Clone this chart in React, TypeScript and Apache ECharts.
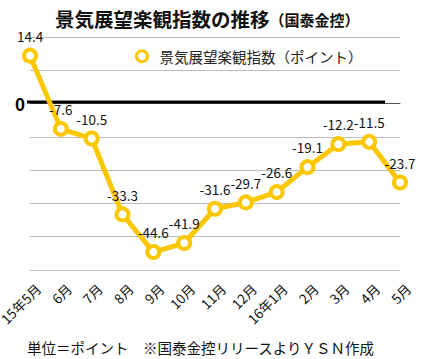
import React, { useEffect, useRef } from "react";
import * as echarts from "echarts";

const categories = ["15年5月", "6月", "7月", "8月", "9月", "10月", "11月", "12月", "16年1月", "2月", "3月", "4月", "5月"];
const values = [14.4, -7.6, -10.5, -33.3, -44.6, -41.9, -31.6, -29.7, -26.6, -19.1, -12.2, -11.5, -23.7];
const seriesName = "景気展望楽観指数（ポイント）";
const titleMain = "景気展望楽観指数の推移";
const titleSub = "（国泰金控）";
const footnote = "単位＝ポイント　※国泰金控リリースよりＹＳＮ作成";
const yMin = -50;
const yMax = 20;
const yInterval = 10;

const YELLOW = "#FDC700";
const FONT = "'Noto Sans CJK JP', 'Noto Sans', sans-serif";

export default function App() {
  const ref = useRef<HTMLDivElement>(null);
  useEffect(() => {
    if (!ref.current) return;
    const chart = echarts.init(ref.current, undefined, { renderer: "svg" });
    const footGraphic = {
      type: "text",
      left: 27,
      top: 340,
      style: { text: footnote, fontSize: 14.5, fill: "#111", fontFamily: FONT },
    };
    chart.setOption({
      animation: false,
      backgroundColor: "#fff",
      textStyle: { fontFamily: FONT },
      title: {
        left: 50,
        top: 4,
        text: `{a|${titleMain}}{b|${titleSub}}`,
        textStyle: {
          rich: {
            a: { fontSize: 19.5, fontWeight: "bold", color: "#111", fontFamily: FONT },
            b: { fontSize: 15, fontWeight: "bold", color: "#111", fontFamily: FONT, padding: [2, 0, 0, 0] },
          },
        },
      },
      legend: {
        left: 130,
        top: 44,
        icon: "circle",
        itemWidth: 25,
        itemHeight: 11,
        itemStyle: { color: "#fff", borderColor: YELLOW, borderWidth: 3 },
        textStyle: { fontSize: 14.5, color: "#222", fontFamily: FONT },
        data: [seriesName],
      },
      grid: [
        { left: 30, right: 21, top: 37, bottom: 89, containLabel: false, outerBoundsMode: "none" },
        { left: 38, right: 13, top: 37, bottom: 89, containLabel: false, outerBoundsMode: "none" },
      ],
      xAxis: [
        {
          type: "category",
          gridIndex: 0,
          data: categories,
          boundaryGap: false,
          axisLine: { lineStyle: { color: "#555", width: 1 } },
          axisTick: { show: false },
          axisLabel: { show: false },
        },
        {
          type: "category",
          gridIndex: 1,
          data: categories,
          boundaryGap: false,
          axisLine: { show: false },
          axisTick: { show: false },
          splitLine: { show: false },
          axisLabel: {
            rotate: 45,
            margin: 16,
            fontSize: 13.5,
            color: "#111",
            fontFamily: FONT,
            interval: 0,
            padding: [28, 0, 0, 0],
          },
        },
      ],
      yAxis: [
        {
          type: "value",
          gridIndex: 0,
          min: yMin,
          max: yMax,
          interval: yInterval,
          axisLine: { show: false },
          axisTick: { show: false },
          splitLine: { lineStyle: { color: "#bbb", width: 1 } },
          axisLabel: {
            margin: 5,
            fontSize: 17,
            fontWeight: "bold",
            color: "#000",
            fontFamily: FONT,
            formatter: (v: number) => (v === 0 ? "0" : ""),
          },
        },
        {
          type: "value",
          gridIndex: 1,
          min: yMin,
          max: yMax,
          interval: yInterval,
          show: false,
          splitLine: { show: false },
        },
      ],
      series: [
        {
          name: seriesName,
          type: "line",
          xAxisIndex: 0,
          yAxisIndex: 0,
          data: values,
          symbol: "circle",
          symbolSize: 12,
          z: 5,
          lineStyle: { color: YELLOW, width: 5 },
          itemStyle: { color: "#fff", borderColor: YELLOW, borderWidth: 4 },
          label: {
            show: true,
            position: "top",
            distance: 5,
            fontSize: 13.5,
            color: "#111",
            fontFamily: FONT,
          },
        },
      ],
      graphic: [footGraphic],
    });
    const y0 = chart.convertToPixel({ yAxisIndex: 0 }, 0) as number;
    chart.setOption({
      graphic: [
        footGraphic,
        {
          type: "line",
          z: 3,
          shape: { x1: 27, y1: y0 - 1.5, x2: 385, y2: y0 - 1.5 },
          style: { stroke: "#000", lineWidth: 3 },
        },
      ],
    });
    return () => chart.dispose();
  }, []);
  return <div ref={ref} style={{ position: "fixed", left: 0, top: 0, width: 421, height: 359 }} />;
}
